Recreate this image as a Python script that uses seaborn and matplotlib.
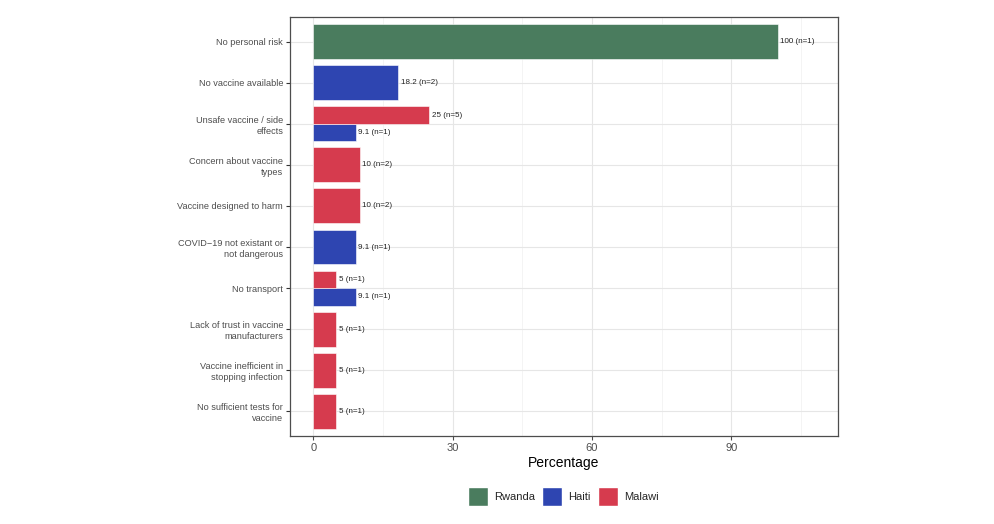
import numpy as np
import matplotlib.pyplot as plt
from matplotlib.patches import Patch
import seaborn as sns

# Data (top to bottom)
categories = [
    "No personal risk",
    "No vaccine available",
    "Unsafe vaccine / side\neffects",
    "Concern about vaccine\ntypes",
    "Vaccine designed to harm",
    "COVID\u221219 not existant or\nnot dangerous",
    "No transport",
    "Lack of trust in vaccine\nmanufacturers",
    "Vaccine inefficient in\nstopping infection",
    "No sufficient tests for\nvaccine",
]
countries = ["Rwanda", "Haiti", "Malawi"]
# percentages per country (None = no bar)
rwanda_pct = [100, None, None, None, None, None, None, None, None, None]
haiti_pct = [None, 18.2, 9.1, None, None, 9.1, 9.1, None, None, None]
malawi_pct = [None, None, 25, 10, 10, None, 5, 5, 5, 5]
rwanda_n = [1, None, None, None, None, None, None, None, None, None]
haiti_n = [None, 2, 1, None, None, 1, 1, None, None, None]
malawi_n = [None, None, 5, 2, 2, None, 1, 1, 1, 1]

colors = {"Rwanda": "#4a7c5e", "Haiti": "#2e45b1", "Malawi": "#d63b4e"}

sns.set_theme(style="white")
plt.rcParams["font.family"] = ["Liberation Sans", "DejaVu Sans"]

fig = plt.figure(figsize=(9.95, 5.24), dpi=100)
ax = fig.add_axes([0.2915, 0.168, 0.5507, 0.7996])

pct = {"Rwanda": rwanda_pct, "Haiti": haiti_pct, "Malawi": malawi_pct}
nn = {"Rwanda": rwanda_n, "Haiti": haiti_n, "Malawi": malawi_n}
width = 0.85

for i, cat in enumerate(categories):
    present = [c for c in countries if pct[c][i] is not None]
    k = len(present)
    w = width / k
    # first country in order goes to the bottom (ggplot dodge in flipped coords)
    for j, c in enumerate(present):
        yc = i - width / 2 + w / 2 + (k - 1 - j) * w
        v = pct[c][i]
        ax.barh(yc, v, height=w, color=colors[c], edgecolor="white", linewidth=0.4)
        ax.text(v + 0.6, yc, f"{v:g} (n={nn[c][i]})", va="center", ha="left",
                fontsize=5.8, color="#222222")

ax.set_xlim(-5, 113)
ax.set_ylim(len(categories) - 0.4, -0.6)
ax.set_yticks(range(len(categories)))
ax.set_yticklabels(categories, fontsize=6.6, color="#4d4d4d", linespacing=1.3)
ax.set_xticks([0, 30, 60, 90])
ax.set_xticks([15, 45, 75, 105], minor=True)
ax.tick_params(axis="x", labelsize=8, colors="#4d4d4d", length=3, width=0.8,
               direction="out", bottom=True, pad=2)
ax.tick_params(axis="x", which="minor", length=0)
ax.tick_params(axis="y", length=3, width=0.8, colors="#333333", direction="out",
               left=True, pad=2, labelcolor="#4d4d4d")
ax.grid(True, which="major", color="#e6e6e6", linewidth=0.8)
ax.grid(True, which="minor", axis="x", color="#f0f0f0", linewidth=0.5)
ax.set_axisbelow(True)
for s in ax.spines.values():
    s.set_color("#4d4d4d")
    s.set_linewidth(0.9)
ax.set_xlabel("Percentage", fontsize=10, color="black", labelpad=2)
ax.set_ylabel("")

handles = [Patch(facecolor=colors[c], edgecolor="white", label=c) for c in countries]
fig.legend(handles=handles, loc="center", bbox_to_anchor=(0.566, 0.052), ncol=3,
           frameon=False, fontsize=8, handlelength=1.8, handleheight=2.2,
           columnspacing=0.6, handletextpad=0.6)

fig.savefig("out.png", dpi=100)
